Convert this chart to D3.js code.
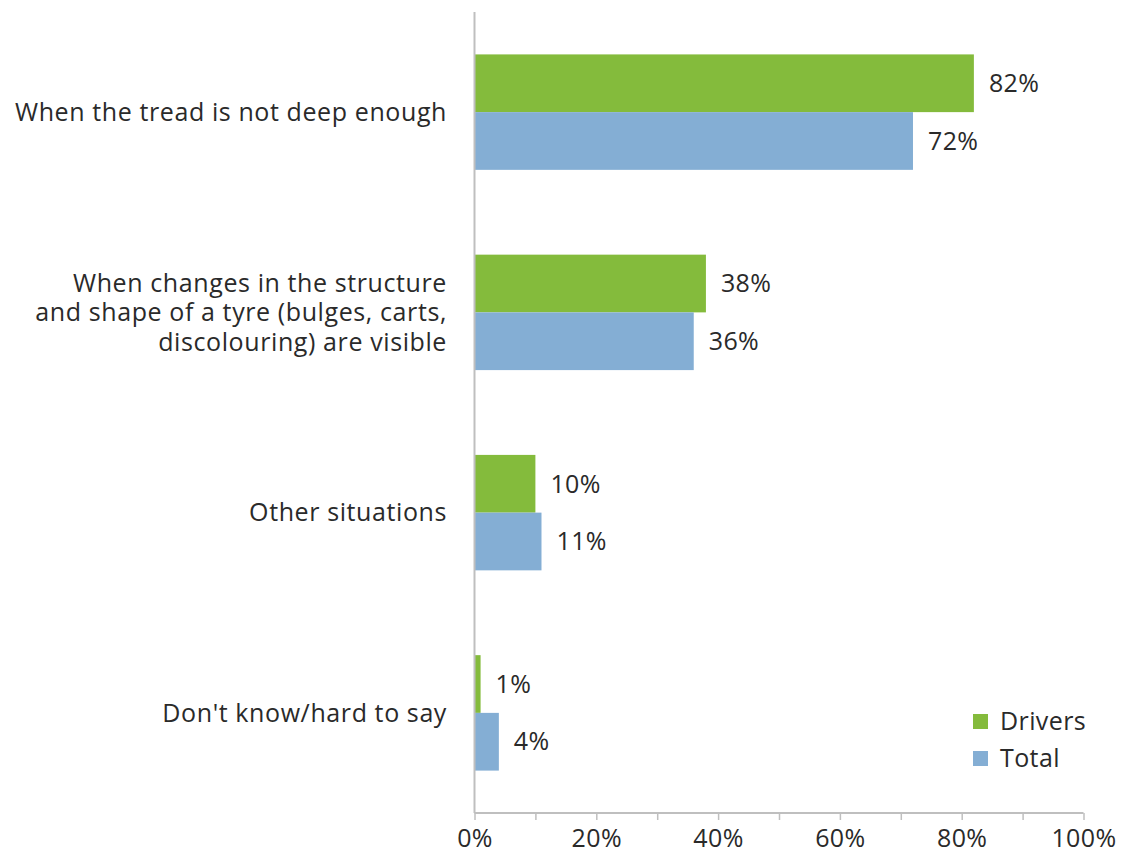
<!DOCTYPE html>
<html>
<head>
<meta charset="utf-8">
<script src="https://cdn.jsdelivr.net/npm/d3@7"></script>
<style>
  html, body { margin: 0; padding: 0; background: #fff; }
  svg { display: block; font-family: "Open Sans", sans-serif; }
</style>
</head>
<body>
<svg id="chart" width="1121" height="854"></svg>
<script>
// Survey answers: when should a tyre be replaced?
const categories = [
  ["When the tread is not deep enough"],
  ["When changes in the structure", "and shape of a tyre (bulges, carts,", "discolouring) are visible"],
  ["Other situations"],
  ["Don't know/hard to say"]
];
const seriesNames = ["Drivers", "Total"];
const drivers = [82, 38, 10, 1];
const total = [72, 36, 11, 4];
const xTicks = [0, 20, 40, 60, 80, 100];

const colors = { Drivers: "#84bb3c", Total: "#84aed4" };
const textColor = "#2a2a2a";
const axisColor = "#bfbfbf";

const svg = d3.select("#chart");
const margin = { left: 474.5, right: 37.5, top: 12, bottom: 41 };
const W = 1121, H = 854;

const x = d3.scaleLinear().domain([0, 100]).range([margin.left, W - margin.right]);
const y = d3.scaleBand()
  .domain(d3.range(categories.length))
  .range([margin.top, H - margin.bottom])
  .paddingInner(0.4235)
  .paddingOuter(0.21175);
const sub = d3.scaleBand().domain(seriesNames).range([0, y.bandwidth()]);

const values = { Drivers: drivers, Total: total };

// bars and their value labels
seriesNames.forEach(s => {
  svg.append("g").selectAll("rect")
    .data(values[s])
    .join("rect")
    .attr("x", x(0))
    .attr("y", (d, i) => y(i) + sub(s))
    .attr("width", d => x(d) - x(0))
    .attr("height", sub.bandwidth())
    .attr("fill", colors[s]);

  svg.append("g").selectAll("text")
    .data(values[s])
    .join("text")
    .attr("x", d => x(d) + 15)
    .attr("y", (d, i) => y(i) + sub(s) + sub.bandwidth() / 2)
    .attr("dy", "0.35em")
    .attr("font-size", 25)
    .attr("letter-spacing", 0.4)
    .attr("fill", textColor)
    .text(d => d + "%");
});

// category axis (left)
svg.append("line")
  .attr("x1", x(0)).attr("x2", x(0))
  .attr("y1", margin.top).attr("y2", H - margin.bottom)
  .attr("stroke", axisColor).attr("stroke-width", 2);

const lineH = 29.5;
categories.forEach((lines, i) => {
  const cy = y(i) + y.bandwidth() / 2;
  const t = svg.append("text")
    .attr("text-anchor", "end")
    .attr("font-size", 25)
    .attr("letter-spacing", 0.6)
    .attr("fill", textColor);
  lines.forEach((ln, k) => {
    t.append("tspan")
      .attr("x", 447)
      .attr("y", cy + (k - (lines.length - 1) / 2) * lineH)
      .attr("dy", "0.35em")
      .text(ln);
  });
});

// value axis (bottom)
const xAxis = d3.axisBottom(x)
  .tickValues(d3.range(0, 101, 10))
  .tickSize(7)
  .tickFormat(d => xTicks.includes(d) ? d + "%" : "");
const gx = svg.append("g")
  .attr("transform", `translate(0,${H - margin.bottom})`)
  .call(xAxis);
gx.select(".domain").attr("stroke", axisColor).attr("stroke-width", 2).attr("d", `M${x(0)},0H${x(100)}`);
gx.selectAll(".tick line").attr("stroke", axisColor).attr("stroke-width", 1.5);
gx.selectAll(".tick text")
  .attr("font-size", 25)
  .attr("font-family", "Open Sans, sans-serif")
  .attr("letter-spacing", 0.4)
  .attr("fill", textColor)
  .attr("y", 16)
  .attr("dy", "0.71em");

// legend
const legend = svg.append("g");
seriesNames.forEach((s, i) => {
  const ly = 721.5 + i * 37;
  legend.append("rect")
    .attr("x", 973).attr("y", ly - 7.5)
    .attr("width", 15).attr("height", 15)
    .attr("fill", colors[s]);
  legend.append("text")
    .attr("x", 1000).attr("y", ly)
    .attr("dy", "0.35em")
    .attr("font-size", 25)
    .attr("letter-spacing", 0.4)
    .attr("fill", textColor)
    .text(s);
});
</script>
</body>
</html>
